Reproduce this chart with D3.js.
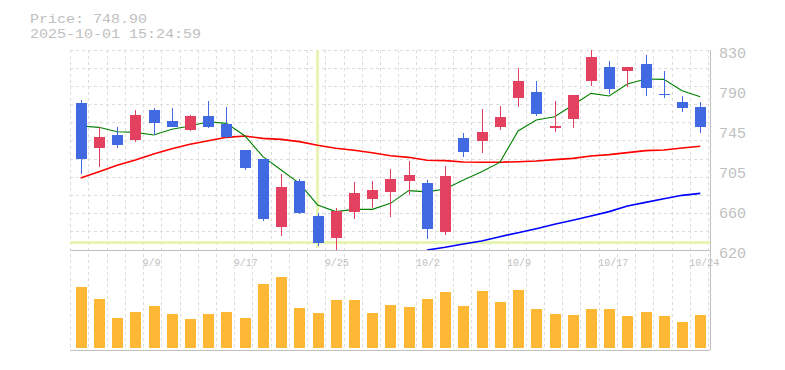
<!DOCTYPE html>
<html>
<head>
<meta charset="utf-8">
<script src="https://cdn.jsdelivr.net/npm/d3@7"></script>
<style>
  html, body { margin: 0; padding: 0; background: #fff; }
  svg { display: block; }
  text { font-family: "Liberation Mono", "DejaVu Sans Mono", monospace; fill: #c0c0c0; }
</style>
</head>
<body>
<div id="chart"></div>
<script>
// trading days shown on the chart
const DATES = ['9/3', '9/4', '9/5', '9/8', '9/9', '9/10', '9/11', '9/12', '9/16', '9/17',
    '9/18', '9/19', '9/22', '9/24', '9/25', '9/26', '9/29', '9/30', '10/1', '10/2',
    '10/3', '10/6', '10/7', '10/8', '10/9', '10/10', '10/14', '10/15', '10/16', '10/17',
    '10/20', '10/21', '10/22', '10/23', '10/24'];

const OPEN = [774.7, 727.5, 740.8, 735.9, 767.0, 755.5, 746.0, 760.7, 752.3, 725.0,
    715.6, 644.5, 692.5, 655.7, 633.0, 660.3, 673.9, 681.3, 692.8, 690.4,
    639.3, 737.6, 734.8, 749.5, 779.9, 785.9, 748.4, 757.9, 797.8, 812.2,
    808.3, 815.3, 784.2, 775.4, 770.2];
const HIGH = [777.5, 748.8, 748.8, 767.0, 769.1, 769.1, 761.8, 776.5, 770.2, 725.5,
    716.0, 699.8, 694.6, 659.2, 664.5, 691.4, 692.5, 705.0, 713.5, 693.5,
    708.2, 742.9, 768.1, 771.2, 811.1, 797.5, 776.5, 782.8, 830.0, 818.5,
    812.2, 824.8, 808.0, 781.7, 775.4];
const LOW = [699.8, 707.5, 727.5, 733.8, 740.4, 748.8, 745.3, 748.1, 737.8, 704.0,
    650.8, 634.7, 658.2, 624.2, 619.5, 652.6, 664.5, 655.0, 677.8, 631.9,
    636.1, 718.0, 722.2, 746.3, 770.5, 761.0, 744.2, 748.4, 792.5, 784.1,
    791.5, 782.0, 780.0, 765.2, 743.2];
const CLOSE = [715.9, 738.3, 730.3, 761.8, 753.7, 749.2, 760.7, 749.2, 738.3, 706.5,
    652.6, 686.2, 659.2, 627.7, 661.0, 679.9, 683.0, 694.6, 698.8, 642.4,
    697.7, 723.3, 743.9, 759.7, 797.5, 763.2, 750.2, 782.8, 822.7, 789.4,
    812.2, 790.4, 783.1, 769.4, 748.9];

// moving averages (short, mid, long)
const MA_SHORT = [750.2, 748.8, 744.2, 743.5, 740.8, 746.7, 750.2, 754.7, 753.0, 740.0,
    718.0, 704.0, 690.0, 667.3, 660.3, 662.7, 662.7, 669.0, 682.3, 681.0,
    684.0, 693.5, 702.2, 712.0, 745.0, 756.5, 760.0, 771.9, 784.5, 781.7,
    794.3, 799.5, 799.2, 787.3, 781.0];
const MA_MID = [695.6, 702.2, 708.9, 714.5, 720.8, 726.4, 731.0, 734.8, 738.3, 739.7,
    737.2, 736.2, 733.8, 729.9, 726.8, 724.7, 722.2, 719.0, 717.3, 714.2,
    713.8, 712.4, 712.2, 712.2, 712.7, 713.5, 714.9, 716.2, 718.7, 720.1,
    722.2, 724.3, 725.0, 727.1, 728.9];
const MA_LONG = [null, null, null, null, null, null, null, null, null, null,
    null, null, null, null, null, null, null, null, null, 620.0,
    622.8, 626.3, 629.5, 634.0, 638.2, 642.4, 647.0, 651.2, 655.7, 660.3,
    666.2, 670.0, 673.9, 677.4, 679.5];

const VOLUME = [6100, 4900, 3000, 3600, 4200, 3400, 2900, 3400, 3600, 3000,
    6400, 7100, 4000, 3500, 4800, 4800, 3500, 4300, 4100, 4900,
    5600, 4200, 5700, 4600, 5800, 3900, 3400, 3300, 3900, 3900,
    3200, 3600, 3200, 2600, 3300];

const PRICE_TICKS = [620, 662, 704, 746, 788, 830];
const LABEL_DATES = ['9/9', '9/17', '9/25', '10/2', '10/9', '10/17', '10/24'];

const TITLE_PRICE = 'Price: 748.90';
const TITLE_TIME = '2025-10-01 15:24:59';

// crosshair position
const CROSS_DATE = '9/24';
const CROSS_PRICE = 628;

const W = 785, H = 370;
const plotLeft = 70, plotRight = 710, plotTop = 50, priceBottom = 250, volBottom = 350;
const bodyWidth = 11;

const colors = {
    up: '#e2425f',
    down: '#4169e1',
    volume: '#feb835',
    grid: '#dcdcdc',
    border: '#c0c0c0',
    cross: '#e6f5b4'
};

const svg = d3.select('#chart').append('svg')
    .attr('width', W)
    .attr('height', H);

const x = d3.scaleBand()
    .domain(DATES)
    .range([plotLeft + 1.6, plotRight - 0.6])
    .padding(0);
const cx = d => x(d) + x.bandwidth() / 2;

const y = d3.scaleLinear().domain([620, 830]).range([priceBottom, plotTop]);
const yVol = d3.scaleLinear().domain([0, 10000]).range([volBottom - 2, volBottom - 102]);

// grid
const grid = svg.append('g').attr('stroke', colors.grid).attr('stroke-dasharray', '3,3')
    .attr('shape-rendering', 'crispEdges');

grid.selectAll('line.v')
    .data(DATES.concat(['end']))
    .join('line')
    .attr('class', 'v')
    .attr('x1', d => d === 'end' ? plotRight - 1.5 : x(d) - 0.9)
    .attr('x2', d => d === 'end' ? plotRight - 1.5 : x(d) - 0.9)
    .attr('y1', plotTop)
    .attr('y2', volBottom);

grid.selectAll('line.h')
    .data(d3.range(11))
    .join('line')
    .attr('class', 'h')
    .attr('x1', plotLeft)
    .attr('x2', plotRight)
    .attr('y1', i => plotTop + i * (priceBottom - plotTop) / 11)
    .attr('y2', i => plotTop + i * (priceBottom - plotTop) / 11);

// crosshair
svg.append('line')
    .attr('x1', cx(CROSS_DATE)).attr('x2', cx(CROSS_DATE))
    .attr('y1', plotTop).attr('y2', priceBottom - 2)
    .attr('stroke', colors.cross).attr('stroke-width', 3);
svg.append('line')
    .attr('x1', plotLeft).attr('x2', plotRight)
    .attr('y1', y(CROSS_PRICE)).attr('y2', y(CROSS_PRICE))
    .attr('stroke', colors.cross).attr('stroke-width', 3);

// frame
const frame = svg.append('g').attr('stroke', colors.border).attr('shape-rendering', 'crispEdges');
frame.append('line').attr('x1', plotLeft).attr('x2', plotRight).attr('y1', priceBottom + 0.5).attr('y2', priceBottom + 0.5);
frame.append('line').attr('x1', plotLeft).attr('x2', plotRight).attr('y1', volBottom + 0.5).attr('y2', volBottom + 0.5);
frame.append('line').attr('x1', plotRight + 0.5).attr('x2', plotRight + 0.5).attr('y1', plotTop).attr('y2', volBottom);

// moving averages, under the candles
svg.append('clipPath').attr('id', 'clip')
    .append('rect').attr('x', plotLeft).attr('y', plotTop)
    .attr('width', plotRight - plotLeft).attr('height', priceBottom - plotTop);

const maLine = values => d3.line()
    .defined((d, i) => values[i] != null)
    .x(d => cx(d))
    .y((d, i) => y(values[i]))(DATES);

[[MA_MID, '#ff0000', 1.6], [MA_LONG, '#0000ff', 1.6], [MA_SHORT, '#008000', 1.1]].forEach(([vals, c, w]) => {
    svg.append('path')
        .attr('d', maLine(vals))
        .attr('fill', 'none')
        .attr('stroke', c)
        .attr('stroke-width', w)
        .attr('clip-path', 'url(#clip)');
});

// candles
const candles = svg.append('g').attr('shape-rendering', 'crispEdges')
    .selectAll('g')
    .data(DATES)
    .join('g');

candles.append('line')
    .attr('x1', d => Math.round(cx(d)) + 0.5)
    .attr('x2', d => Math.round(cx(d)) + 0.5)
    .attr('y1', (d, i) => y(HIGH[i]))
    .attr('y2', (d, i) => y(LOW[i]))
    .attr('stroke', (d, i) => CLOSE[i] >= OPEN[i] ? colors.up : colors.down)
    .attr('stroke-width', 1);

candles.append('rect')
    .attr('x', d => Math.round(cx(d)) + 0.5 - bodyWidth / 2)
    .attr('y', (d, i) => y(Math.max(OPEN[i], CLOSE[i])))
    .attr('width', bodyWidth)
    .attr('height', (d, i) => Math.max(1, Math.abs(y(OPEN[i]) - y(CLOSE[i]))))
    .attr('fill', (d, i) => CLOSE[i] >= OPEN[i] ? colors.up : colors.down);

// volume
svg.append('g').attr('shape-rendering', 'crispEdges')
    .selectAll('rect')
    .data(DATES)
    .join('rect')
    .attr('x', d => Math.round(cx(d)) + 0.5 - bodyWidth / 2)
    .attr('y', (d, i) => yVol(VOLUME[i]))
    .attr('width', bodyWidth)
    .attr('height', (d, i) => yVol(0) - yVol(VOLUME[i]))
    .attr('fill', colors.volume);

// price labels
svg.append('g')
    .selectAll('text')
    .data(PRICE_TICKS)
    .join('text')
    .attr('x', 719)
    .attr('y', d => y(d) + 8)
    .attr('font-size', 15)
    .text(d => Math.round(d / 5) * 5);

// date labels
svg.append('g')
    .selectAll('text')
    .data(LABEL_DATES)
    .join('text')
    .attr('x', d => cx(d) - 11)
    .attr('y', priceBottom + 15.5)
    .attr('font-size', 10)
    .text(d => d);

// header: two lines, stretched to the monospace width of the original
[[TITLE_PRICE, 22.6], [TITLE_TIME, 38.3]].forEach(([t, by]) => {
    svg.append('text')
        .attr('x', 30)
        .attr('y', by)
        .attr('font-size', 13.5)
        .attr('textLength', t.length * 9)
        .attr('lengthAdjust', 'spacingAndGlyphs')
        .text(t);
});
</script>
</body>
</html>
